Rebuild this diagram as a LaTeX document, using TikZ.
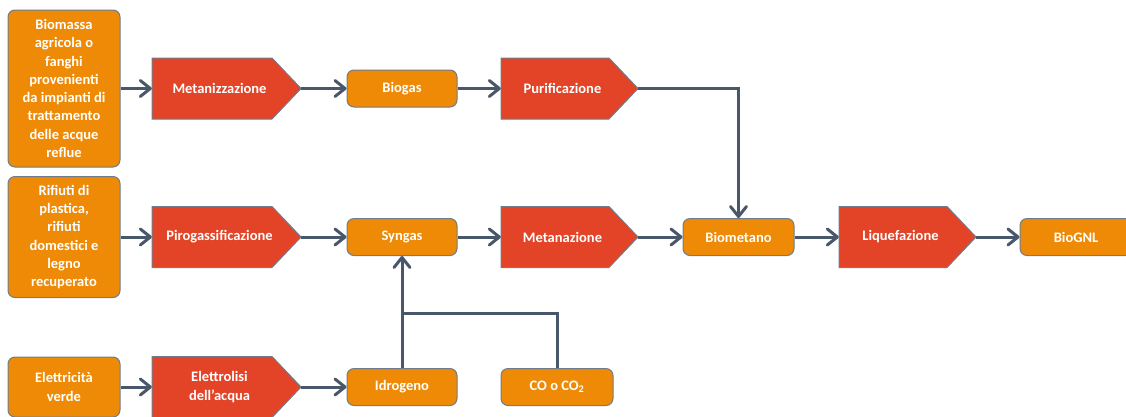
\documentclass[tikz,border=0pt]{standalone}
\usepackage{fontspec}
\setmainfont{Carlito}[BoldFont={Carlito Bold}]
\usetikzlibrary{arrows.meta,calc}
\definecolor{orng}{HTML}{EE8A05}
\definecolor{rd}{HTML}{E34427}
\definecolor{bord}{HTML}{6E7C8C}
\definecolor{conn}{HTML}{48576A}
\tikzset{
  txt/.style={text=white, font=\fontsize{14.5}{18.3}\selectfont\bfseries, align=center, inner sep=0pt},
  box/.style={txt, draw=bord, line width=1pt, fill=orng, rounded corners=7pt},
  proctext/.style={txt, rectangle, minimum height=61pt},
  procshape/.style={draw=bord, line width=1pt, fill=rd},
  conn/.style={draw=conn, line width=3pt, line join=miter},
  arr/.style={conn, -{Straight Barb[length=10pt,width=16pt,line join=round,line cap=round]}}
}
% #1 name, #2 cx, #3 cy, #4 width, #5 text
\newcommand\myproc[5]{%
  \path[procshape] (#2-#4/2,#3-30.5) -- (#2+#4/2-29,#3-30.5) -- (#2+#4/2,#3)
     -- (#2+#4/2-29,#3+30.5) -- (#2-#4/2,#3+30.5) -- cycle;
  \node[proctext, minimum width=#4pt] (#1) at (#2,#3) {#5};}
\begin{document}
\begin{tikzpicture}[x=1pt,y=-1pt]
\useasboundingbox (0,0) rectangle (1126,416);
% sources
\node[box, minimum width=112pt, minimum height=157pt] (src1) at (64,88.5) {Biomassa\\agricola o\\fanghi\\provenienti\\da impianti di\\trattamento\\delle acque\\reflue};
\node[box, minimum width=112pt, minimum height=121pt] (src2) at (64,237) {Rifiuti di\\plastica,\\rifiuti\\domestici e\\legno\\recuperato};
\node[box, minimum width=112pt, minimum height=60pt] (src3) at (64,387) {Elettricità\\verde};
% processes
\myproc{metz}{226.5}{88.5}{149}{\hspace*{-14pt}Metanizzazione}
\myproc{piro}{226.5}{237}{149}{\hspace*{-14pt}Pirogassificazione}
\myproc{elet}{226.5}{387}{149}{\hspace*{-14pt}Elettrolisi\\\hspace*{-14pt}dell'acqua}
\myproc{puri}{569.5}{88.5}{137}{\hspace*{-14pt}Purificazione}
\myproc{meta}{569.5}{237}{137}{\hspace*{-14pt}Metanazione}
\myproc{liqu}{907.5}{237}{137}{\hspace*{-14pt}Liquefazione}
% products
\node[box, minimum width=110pt, minimum height=37pt] (biog) at (402,88.5) {Biogas};
\node[box, minimum width=110pt, minimum height=37pt] (syng) at (402,237) {Syngas};
\node[box, minimum width=110pt, minimum height=37pt] (idro) at (402,387) {Idrogeno};
\node[box, minimum width=112pt, minimum height=37pt] (coco) at (557,387) {CO o CO\textsubscript{2}};
\node[box, minimum width=111pt, minimum height=37pt] (biom) at (738.5,237) {Biometano};
\node[box, minimum width=112pt, minimum height=37pt] (bgnl) at (1076,237) {BioGNL};
\coordinate (turn) at (738.5,88.5);
\coordinate (junc) at (402,313);
% connectors
\draw[arr] (src1.east) -- (metz.west);
\draw[arr] (metz.east) -- (biog.west);
\draw[arr] (biog.east) -- (puri.west);
\draw[arr] (puri.east) -- (turn) -- (biom.north);
\draw[arr] (src2.east) -- (piro.west);
\draw[arr] (piro.east) -- (syng.west);
\draw[arr] (syng.east) -- (meta.west);
\draw[arr] (meta.east) -- (biom.west);
\draw[arr] (biom.east) -- (liqu.west);
\draw[arr] (liqu.east) -- (bgnl.west);
\draw[arr] (src3.east) -- (elet.west);
\draw[arr] (elet.east) -- (idro.west);
\draw[arr] (idro.north) -- (syng.south);
\draw[conn] (coco.north) |- (junc);
\end{tikzpicture}
\end{document}
